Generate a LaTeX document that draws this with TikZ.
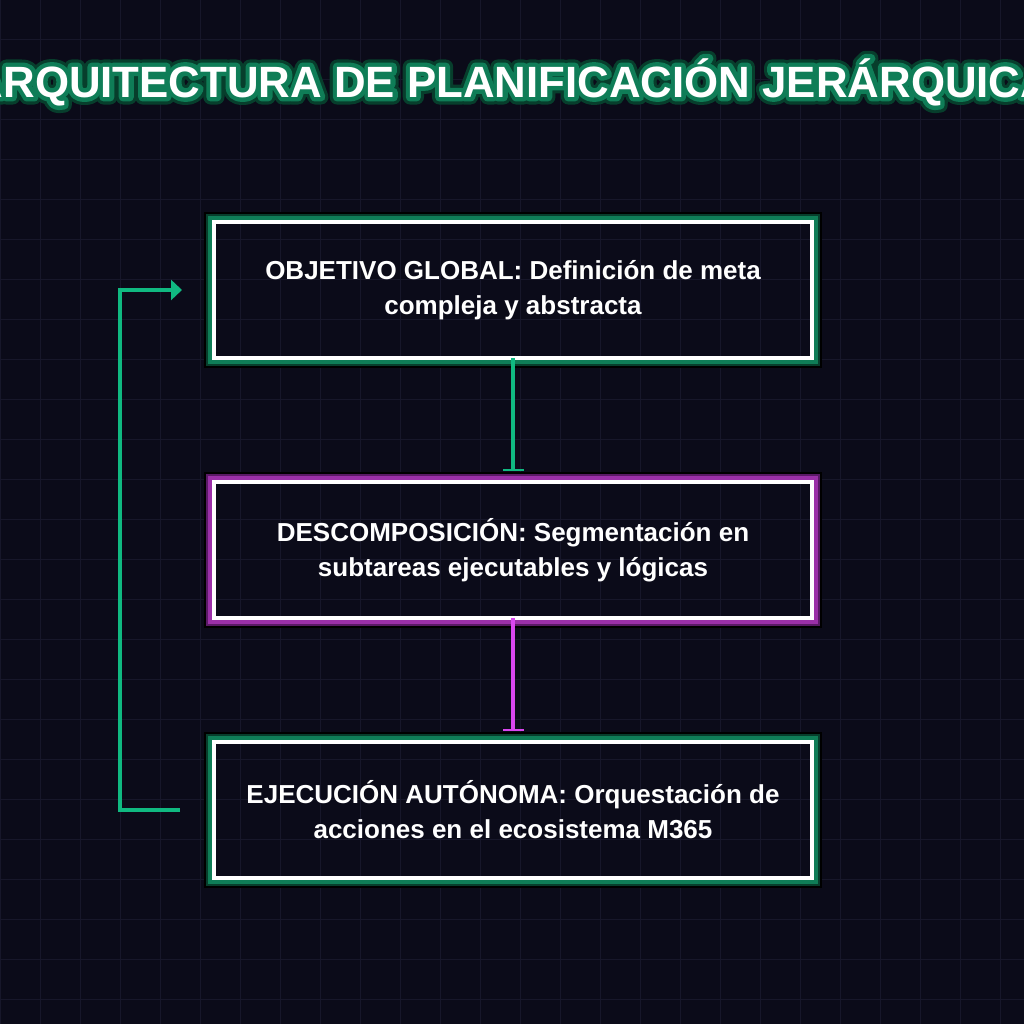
\documentclass[tikz,border=0pt]{standalone}
\usepackage{fontspec}
\setmainfont{Liberation Sans}
\newfontfamily\glowouter{Liberation Sans}[BoldFeatures={FakeBold=34}]
\newfontfamily\glowinner{Liberation Sans}[BoldFeatures={FakeBold=20}]
\usetikzlibrary{arrows.meta, positioning}
\definecolor{bgdark}{HTML}{0B0B19}
\definecolor{gridcol}{HTML}{17172A}
\definecolor{emerald}{HTML}{10B981}
\definecolor{fuchsia}{HTML}{D946EF}
\definecolor{glowgreen}{HTML}{0F7D57}
\definecolor{glowgreendk}{HTML}{073E2C}
\definecolor{glowpink}{HTML}{9B30A8}
\definecolor{glowpinkdk}{HTML}{5A1A66}

\begin{document}
\begin{tikzpicture}[x=1pt, y=1pt, node distance=124pt,
    stage/.style={draw=white, line width=4pt, outer sep=0pt, align=center, text=white,
      font=\fontsize{26}{35}\selectfont\bfseries, minimum width=598pt, minimum height=136pt},
    heading/.style={font=\fontsize{43.8}{50}\selectfont\bfseries, line join=round},
    flow/.style={line width=4pt}
]
  % background and grid
  \fill[bgdark] (0,0) rectangle (1024,1024);
  \clip (0,0) rectangle (1024,1024);
  \draw[gridcol, line width=1pt, step=40, shift={(0,24)}] (0,-24) grid (1024,1000);

  % title with outline
  \node[heading, text=glowgreendk] (tdark) at (512,942) {\glowouter ARQUITECTURA DE PLANIFICACIÓN JERÁRQUICA};
  \node[heading, text=glowgreen] (tmid) at (512,942) {\glowinner ARQUITECTURA DE PLANIFICACIÓN JERÁRQUICA};
  \node[heading, text=white] (title) at (512,942) {ARQUITECTURA DE PLANIFICACIÓN JERÁRQUICA};

  \node[stage] (goal) at (513,734) {OBJETIVO GLOBAL: Definición de meta\\compleja y abstracta};
  \node[stage, below=of goal] (split) {DESCOMPOSICIÓN: Segmentación en\\subtareas ejecutables y lógicas};
  \node[stage, below=of split] (exec) {EJECUCIÓN AUTÓNOMA: Orquestación de\\acciones en el ecosistema M365};

  % glow frames
  \foreach \n/\c/\d in {goal/glowgreen/glowgreendk, split/glowpink/glowpinkdk, exec/glowgreen/glowgreendk} {
    \draw[black, line width=2pt] ([shift={(-9,9)}]\n.north west) rectangle ([shift={(9,-9)}]\n.south east);
    \draw[\d, line width=2pt] ([shift={(-7,7)}]\n.north west) rectangle ([shift={(7,-7)}]\n.south east);
    \draw[\c, line width=4pt] ([shift={(-4,4)}]\n.north west) rectangle ([shift={(4,-4)}]\n.south east);
  }

  \draw[flow, emerald, -{Bar[width=21pt, line width=2pt]}, shorten >=11pt] (goal.south) -- (split.north);
  \draw[flow, fuchsia, -{Bar[width=21pt, line width=2pt]}, shorten >=11pt] (split.south) -- (exec.north);

  % feedback loop
  \draw[flow, emerald, -{Triangle[length=11pt, width=20pt]}, shorten <=34pt, shorten >=32pt]
    (exec.west) -- ++(-94,0) |- (goal.west);
\end{tikzpicture}
\end{document}
